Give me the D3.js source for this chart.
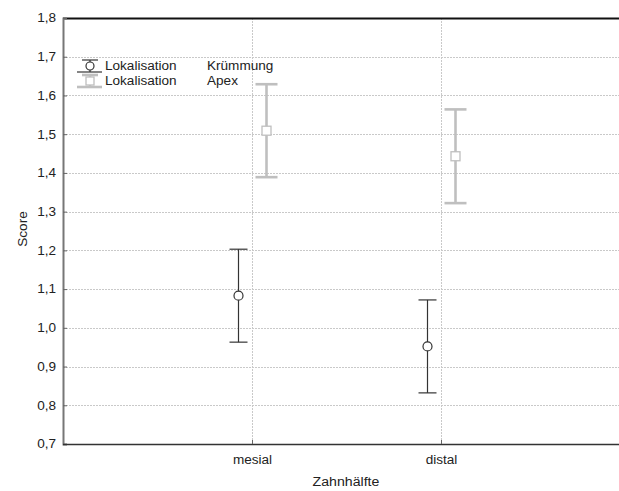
<!DOCTYPE html>
<html>
<head>
<meta charset="utf-8">
<script src="https://cdn.jsdelivr.net/npm/d3@7"></script>
<style>
  html, body { margin: 0; padding: 0; background: #fff; }
  svg { display: block; font-family: "Liberation Sans", Arial, sans-serif; }
</style>
</head>
<body>
<svg id="chart" width="619" height="491"></svg>
<script>
// Categories and series
const categories = ["mesial", "distal"];
const seriesNames = ["Krümmung", "Apex"];
const meanKruemmung = [1.083, 0.952];
const errKruemmung = [0.12, 0.12];
const meanApex = [1.509, 1.443];
const errApex = [0.12, 0.121];
const yTicks = [0.7, 0.8, 0.9, 1.0, 1.1, 1.2, 1.3, 1.4, 1.5, 1.6, 1.7, 1.8];

const series = [
  { name: seriesNames[0], means: meanKruemmung, errs: errKruemmung, color: "#333333", width: 1.2, cap: 9, shape: "circle" },
  { name: seriesNames[1], means: meanApex, errs: errApex, color: "#bfbfbf", width: 2.6, cap: 11, shape: "square" }
];

const svg = d3.select("#chart");
const plotLeft = 63, plotTop = 18, plotBottom = 444, plotRightFull = 630;
const textStretch = 1.13;

const x = d3.scalePoint().domain(categories).range([plotLeft, plotRightFull]).padding(1);
const dx = d3.scalePoint().domain(seriesNames).range([-14, 14]);
const y = d3.scaleLinear().domain([0.7, 1.8]).range([plotBottom, plotTop]);

const fmt = v => d3.format(".1f")(v).replace(".", ",");

// grid
const grid = svg.append("g").attr("stroke", "#c9c9c9").attr("stroke-dasharray", "2,1").attr("stroke-width", 1);
yTicks.filter(t => t > 0.7 && t < 1.8).forEach(t => {
  grid.append("line").attr("x1", plotLeft).attr("x2", 619).attr("y1", Math.round(y(t)) + 0.5).attr("y2", Math.round(y(t)) + 0.5);
});
categories.forEach(c => {
  grid.append("line").attr("x1", x(c) + 0.5).attr("x2", x(c) + 0.5).attr("y1", plotTop).attr("y2", plotBottom);
});

// frame
svg.append("line").attr("x1", plotLeft).attr("x2", 619).attr("y1", plotTop + 0.5).attr("y2", plotTop + 0.5).attr("stroke", "#111").attr("stroke-width", 1.8);

// y axis
const yAxis = svg.append("g").attr("transform", `translate(${plotLeft},0)`)
  .call(d3.axisLeft(y).tickValues(yTicks).tickFormat(fmt).tickSize(-4).tickPadding(7));
yAxis.select(".domain").attr("stroke", "#777").attr("stroke-width", 2);
yAxis.selectAll(".tick line").attr("stroke", "#666");
yAxis.selectAll(".tick text").attr("font-size", 12).attr("fill", "#222").attr("font-family", "Liberation Sans, Arial, sans-serif");

// x axis
const xAxis = svg.append("g").attr("transform", `translate(0,${plotBottom})`)
  .call(d3.axisBottom(x).tickSize(-4).tickPadding(11));
xAxis.select(".domain").attr("d", `M${plotLeft},0.5H619`).attr("stroke", "#333").attr("stroke-width", 1.6);
xAxis.selectAll(".tick line").attr("stroke", "#666");
xAxis.selectAll(".tick text").attr("font-size", 12).attr("fill", "#222").attr("font-family", "Liberation Sans, Arial, sans-serif");

// axis titles
svg.append("text").attr("x", 346).attr("y", 486).attr("text-anchor", "middle")
  .attr("font-size", 12.5).attr("fill", "#222").text("Zahnhälfte");
svg.append("text").attr("transform", "translate(27,229) rotate(-90)").attr("text-anchor", "middle")
  .attr("font-size", 12).attr("fill", "#222").text("Score");

// error bars
function drawMarker(g, shape, cx, cy, color) {
  if (shape === "circle") {
    g.append("circle").attr("cx", cx).attr("cy", cy).attr("r", 4.5)
      .attr("fill", "#fff").attr("stroke", color).attr("stroke-width", 1.2);
  } else {
    g.append("rect").attr("x", cx - 4.5).attr("y", cy - 4.5).attr("width", 9).attr("height", 9)
      .attr("fill", "#fff").attr("stroke", color).attr("stroke-width", 1.3);
  }
}

series.forEach(s => {
  const g = svg.append("g");
  categories.forEach((c, i) => {
    const cx = Math.round(x(c) + dx(s.name)) + 0.5;
    const yTop = y(s.means[i] + s.errs[i]);
    const yBot = y(s.means[i] - s.errs[i]);
    g.append("line").attr("x1", cx).attr("x2", cx).attr("y1", yTop).attr("y2", yBot)
      .attr("stroke", s.color).attr("stroke-width", s.width);
    [yTop, yBot].forEach(yy => {
      g.append("line").attr("x1", cx - s.cap).attr("x2", cx + s.cap).attr("y1", yy).attr("y2", yy)
        .attr("stroke", s.color).attr("stroke-width", s.width);
    });
    drawMarker(g, s.shape, cx, y(s.means[i]), s.color);
  });
});

// legend
const legend = svg.append("g");
series.forEach((s, i) => {
  const cy = 66 + i * 15;
  const cx = 90;
  const lg = legend.append("g");
  lg.append("line").attr("x1", cx).attr("x2", cx).attr("y1", cy - 6).attr("y2", cy + 6)
    .attr("stroke", s.color).attr("stroke-width", s.width);
  lg.append("line").attr("x1", cx - 8).attr("x2", cx + 8).attr("y1", cy - 6).attr("y2", cy - 6)
    .attr("stroke", s.color).attr("stroke-width", s.width);
  lg.append("line").attr("x1", cx - 13).attr("x2", cx + 12).attr("y1", cy + 6).attr("y2", cy + 6)
    .attr("stroke", s.color).attr("stroke-width", s.width);
  if (s.shape === "circle") {
    lg.append("circle").attr("cx", cx).attr("cy", cy).attr("r", 4).attr("fill", "#fff").attr("stroke", s.color).attr("stroke-width", 1.2);
  } else {
    lg.append("rect").attr("x", cx - 4).attr("y", cy - 4).attr("width", 8).attr("height", 8).attr("fill", "#fff").attr("stroke", s.color).attr("stroke-width", 1.3);
  }
  lg.append("text").attr("x", 105).attr("y", cy + 4).attr("font-size", 12).attr("fill", "#222").text("Lokalisation");
  lg.append("text").attr("x", 207).attr("y", cy + 4).attr("font-size", 12).attr("fill", "#222").text(s.name);
});

// widen all labels slightly (the typeface runs a little broad)
svg.selectAll("text").each(function () {
  const w = this.getComputedTextLength();
  d3.select(this).attr("textLength", w * textStretch).attr("lengthAdjust", "spacingAndGlyphs");
});
</script>
</body>
</html>
